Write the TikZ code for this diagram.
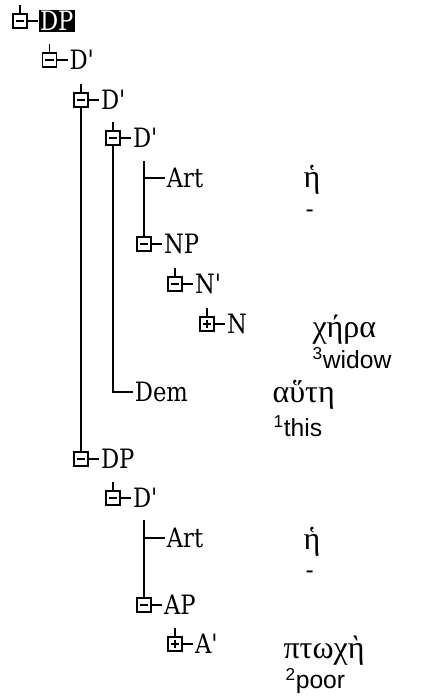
\documentclass[tikz,border=0pt]{standalone}
\usepackage{fontspec}
\setmainfont{DejaVu Serif}[Ligatures=TeXOff]
\newfontfamily\catfont{DejaVu Serif}[Ligatures=TeXOff, FakeStretch=0.85]
\newfontfamily\glossfont{Liberation Sans}
\newfontfamily\greekfont{Liberation Serif}
\usetikzlibrary{positioning}

\tikzset{
  collapse/.style={draw, line width=0.8pt, fill=white, minimum size=10.5pt, inner sep=0pt,
    path picture={\draw[line width=0.8pt]
      ([xshift=2pt]path picture bounding box.west) -- ([xshift=-2pt]path picture bounding box.east);}},
  expand/.style={draw, line width=0.8pt, fill=white, minimum size=10.5pt, inner sep=0pt,
    path picture={\draw[line width=0.8pt]
      ([xshift=2pt]path picture bounding box.west) -- ([xshift=-2pt]path picture bounding box.east)
      ([yshift=-2pt]path picture bounding box.north) -- ([yshift=2pt]path picture bounding box.south);}},
  cat/.style={anchor=west, inner sep=1pt, font=\catfont\fontsize{20}{22}\selectfont},
  greek/.style={anchor=west, inner sep=0pt, font=\greekfont\fontsize{24}{26}\selectfont},
  gloss/.style={anchor=west, inner sep=0pt, font=\glossfont\fontsize{18.5}{20}\selectfont},
  every path/.style={line width=0.8pt}
}

\begin{document}
\begin{tikzpicture}[x=0.75pt,y=-0.75pt]
\useasboundingbox (0,0) rectangle (443,697);

% expand/collapse boxes
\node[collapse] (bdp) at (20,21) {};
\node[collapse] (bdbar) at (49.5,60) {};
\node[collapse] (bdbarb) at (81,100) {};
\node[collapse] (bdbarc) at (113,138) {};
\node[collapse] (bnp) at (144,244) {};
\node[collapse] (bnbar) at (175,284) {};
\node[expand] (bn) at (207,324) {};
\node[collapse] (bdpb) at (81,459) {};
\node[collapse] (bdbard) at (113,498) {};
\node[collapse] (bap) at (144,605) {};
\node[expand] (babar) at (175,644) {};

% categories
\node[cat, right=8pt of bdp, fill=black, text=white] (dp) {DP};
\node[cat, right=8pt of bdbar] (dbar) {D'};
\node[cat, right=8pt of bdbarb] (dbarb) {D'};
\node[cat, right=8pt of bdbarc] (dbarc) {D'};
\node[cat] (art) at (165,178) {Art};
\node[cat, right=8pt of bnp] (np) {NP};
\node[cat, right=8pt of bnbar] (nbar) {N'};
\node[cat, right=8pt of bn] (n) {N};
\node[cat] (dem) at (133,392) {Dem};
\node[cat, right=8pt of bdpb] (dpb) {DP};
\node[cat, right=8pt of bdbard] (dbard) {D'};
\node[cat] (artb) at (165,538) {Art};
\node[cat, right=8pt of bap] (ap) {AP};
\node[cat, right=8pt of babar] (abar) {A'};

% greek words and glosses
\node[greek] (eta) at (303,180) {ἡ};
\node[gloss] (etagl) at (305,214) {-};
\node[greek] (chera) at (312,330) {χήρα};
\node[gloss] (cheragl) at (312,358) {\textsuperscript{3}widow};
\node[greek] (haute) at (272,395) {αὕτη};
\node[gloss] (hautegl) at (273,426) {\textsuperscript{1}this};
\node[greek] (etab) at (303,542) {ἡ};
\node[gloss] (etabgl) at (305,575) {-};
\node[greek] (ptoche) at (283,651) {πτωχὴ};
\node[gloss] (ptochegl) at (285,681) {\textsuperscript{2}poor};

% stubs above the boxes
\foreach \b in {bdp,bdbar,bdbarb,bdbarc,bnp,bnbar,bn,bdpb,bdbard,bap,babar}
  \draw (\b.north) -- ++(0,-8);

% ticks to the labels
\path
(bdp) edge (dp)
(bdbar) edge (dbar)
(bdbarb) edge (dbarb)
(bdbarc) edge (dbarc)
(bnp) edge (np)
(bnbar) edge (nbar)
(bn) edge (n)
(bdpb) edge (dpb)
(bdbard) edge (dbard)
(bap) edge (ap)
(babar) edge (abar);

% vertical lines
\coordinate (arttop) at (144,161);
\coordinate (artbtop) at (144,520);
\draw (bdbarb.south) -- (bdpb.north);
\draw (bdbarc.south) |- (dem.west);
\draw (arttop) -- (bnp.north);
\draw (arttop |- art.west) -- (art.west);
\draw (artbtop) -- (bap.north);
\draw (artbtop |- artb.west) -- (artb.west);
\end{tikzpicture}
\end{document}
